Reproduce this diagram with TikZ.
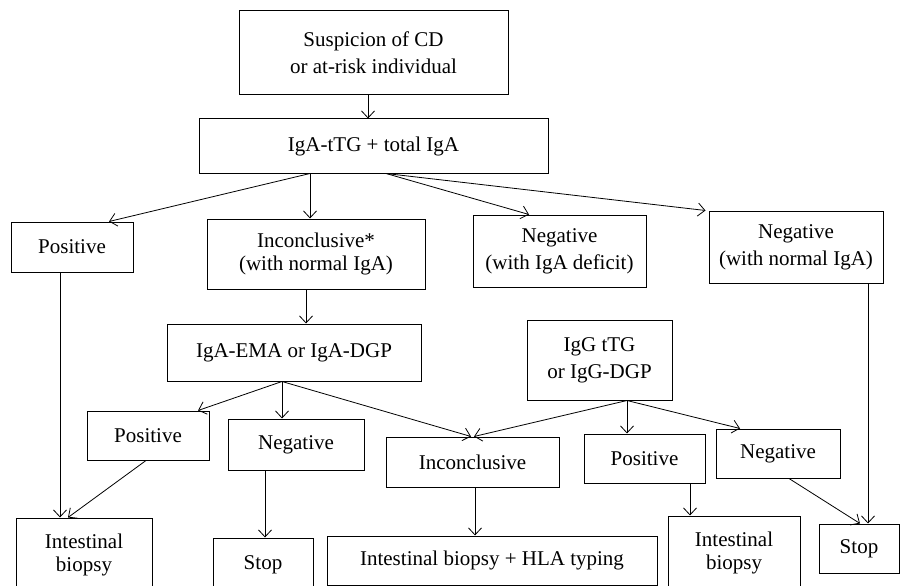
\documentclass[tikz,border=0pt]{standalone}
\usepackage{fontspec}
\setmainfont{Liberation Serif}
\usetikzlibrary{arrows.meta}
\begin{document}
\begin{tikzpicture}[x=1pt,y=-1pt,
  box/.style={draw, line width=1pt, inner sep=0pt, align=center, font=\fontsize{21}{27}\selectfont},
  tight/.style={font=\fontsize{21}{23}\selectfont},
  arr/.style={line width=0.8pt, -{Straight Barb[length=7pt,width=13pt,line width=0.8pt]}}]
\useasboundingbox (0,0) rectangle (906,586);
\clip (0,0) rectangle (906,586);
\fill[white] (0,0) rectangle (906,586);
% row 1-2
\node[box, minimum width=269pt, minimum height=84pt] (susp) at (373.5,53) {Suspicion of CD\\or at-risk individual};
\node[box, minimum width=349pt, minimum height=54pt] (ttg) at (373.5,146) {IgA-tTG + total IgA};
% row 3
\node[box, minimum width=122pt, minimum height=50pt] (pos1) at (72,247) {Positive};
\node[box, tight, minimum width=218pt, minimum height=70pt] (inc1) at (316,254) {Inconclusive*\\(with normal IgA)};
\node[box, minimum width=173pt, minimum height=72pt] (negdef) at (559.5,251) {Negative\\(with IgA deficit)};
\node[box, minimum width=174pt, minimum height=72pt] (negnorm) at (796,247) {Negative\\(with normal IgA)};
% row 4
\node[box, minimum width=254pt, minimum height=57pt] (ema) at (294,352.5) {IgA-EMA or IgA-DGP};
\node[box, minimum width=145pt, minimum height=80pt] (igg) at (599.5,360) {IgG tTG\\or IgG-DGP};
% row 5
\node[box, minimum width=122pt, minimum height=49pt] (pos2) at (148,435.5) {Positive};
\node[box, minimum width=136pt, minimum height=51pt] (neg2) at (296,444.5) {Negative};
\node[box, minimum width=173pt, minimum height=50pt] (inc2) at (472.5,462) {Inconclusive};
\node[box, minimum width=121pt, minimum height=49pt] (pos3) at (644.5,458.5) {Positive};
\node[box, minimum width=124pt, minimum height=49pt] (neg3) at (778,453.5) {Negative};
% row 6
\node[box, tight, minimum width=136pt, minimum height=74pt] (bx1) at (84,555) {Intestinal\\biopsy};
\node[box, minimum width=100pt, minimum height=54pt] (stop1) at (263,565) {Stop};
\node[box, minimum width=330pt, minimum height=49pt] (hla) at (492,560.5) {Intestinal biopsy + HLA typing};
\node[box, tight, minimum width=132pt, minimum height=74pt] (bx2) at (734,553) {Intestinal\\biopsy};
\node[box, minimum width=80pt, minimum height=49pt] (stop2) at (859,548.5) {Stop};
% connectors
\draw[arr] ([xshift=-5.5pt]susp.south) -- ([xshift=-5.5pt]ttg.north);
\draw[arr] ([xshift=-63.5pt]ttg.south) -- ([xshift=37pt]pos1.north);
\draw[arr] ([xshift=-63.5pt]ttg.south) -- ([xshift=-6pt]inc1.north);
\draw[arr] ([xshift=12.5pt]ttg.south) -- ([xshift=-30.5pt]negdef.north);
\draw[arr] ([xshift=12.5pt]ttg.south) -- ([xshift=-3pt]negnorm.north west);
\draw[arr] ([xshift=-12pt]pos1.south) -- ([xshift=-24pt]bx1.north);
\draw[arr] ([xshift=-10pt]inc1.south) -- ([xshift=12pt]ema.north);
\draw[arr] ([xshift=72pt]negnorm.south) -- ([xshift=9pt]stop2.north);
\draw[arr] ([xshift=-12pt]ema.south) -- ([xshift=50pt]pos2.north);
\draw[arr] ([xshift=-12pt]ema.south) -- ([xshift=-14pt]neg2.north);
\draw[arr] ([xshift=-12pt]ema.south) -- ([xshift=-1.5pt]inc2.north);
\draw[arr] ([xshift=27.5pt]igg.south) -- ([xshift=1.5pt]inc2.north);
\draw[arr] ([xshift=27.5pt]igg.south) -- ([xshift=-17.5pt]pos3.north);
\draw[arr] ([xshift=27.5pt]igg.south) -- ([xshift=-38pt]neg3.north);
\draw[arr] ([xshift=-2pt]pos2.south) -- ([xshift=-16pt]bx1.north);
\draw[arr] ([xshift=-31pt]neg2.south) -- ([xshift=2pt]stop1.north);
\draw[arr] ([xshift=2.5pt]inc2.south) -- ([xshift=-17pt]hla.north);
\draw[arr] ([xshift=45.5pt]pos3.south) -- ([xshift=-44pt]bx2.north);
\draw[arr] ([xshift=11pt]neg3.south) -- ([xshift=1pt]stop2.north);
\end{tikzpicture}
\end{document}
